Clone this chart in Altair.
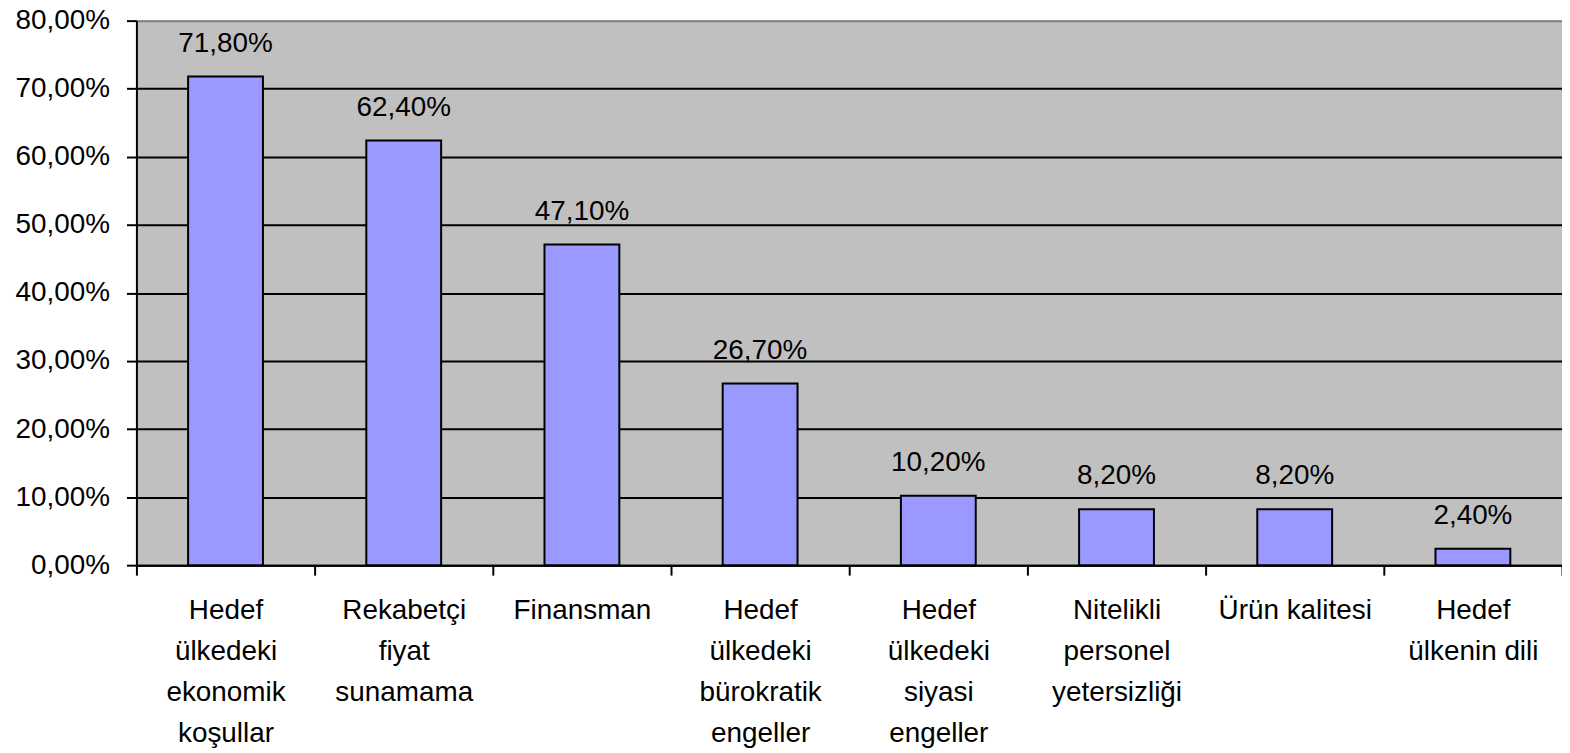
import altair as alt
import pandas as pd

categories = [
    "Hedef\nülkedeki\nekonomik\nkoşullar",
    "Rekabetçi\nfiyat\nsunamama",
    "Finansman",
    "Hedef\nülkedeki\nbürokratik\nengeller",
    "Hedef\nülkedeki\nsiyasi\nengeller",
    "Nitelikli\npersonel\nyetersizliği",
    "Ürün kalitesi",
    "Hedef\nülkenin dili",
]
values = [0.718, 0.624, 0.471, 0.267, 0.102, 0.082, 0.082, 0.024]
y_ticks = [0.0, 0.1, 0.2, 0.3, 0.4, 0.5, 0.6, 0.7, 0.8]

df = pd.DataFrame({"kategori": categories, "deger": values})

FONT = "Liberation Sans"

x = alt.X(
    "kategori:N",
    sort=None,
    scale=alt.Scale(paddingInner=0, paddingOuter=0),
    axis=alt.Axis(
        title=None,
        labelAngle=0,
        tickBand="extent",
        labelFont=FONT,
        labelFontSize=28,
        labelColor="black",
        labelLineHeight=41,
        labelPadding=22,
        labelLimit=400,
        labelOverlap=False,
        labelBound=False,
        labelExpr="split(datum.label, '\\n')",
        tickSize=10,
        tickWidth=2,
        tickColor="black",
        domainColor="black",
        domainWidth=2,
        grid=False,
    ),
)

y = alt.Y(
    "deger:Q",
    scale=alt.Scale(domain=[0, 0.8], nice=False),
    axis=alt.Axis(
        title=None,
        format=".2%",
        values=y_ticks,
        labelFont=FONT,
        labelFontSize=28,
        labelColor="black",
        labelPadding=17,
        tickSize=10,
        tickWidth=2,
        tickColor="black",
        domainColor="black",
        domainWidth=2,
        grid=True,
        gridColor=alt.condition("datum.value >= 0.8", alt.value("#808080"), alt.value("black")),
        gridWidth=2,
    ),
)

base = alt.Chart(df).encode(x=x, y=y)

bars = base.mark_bar(
    color="#9999FF",
    stroke="black",
    strokeWidth=2,
    width=alt.RelativeBandSize(0.42),
)

labels = base.mark_text(
    baseline="alphabetic",
    dy=-25,
    font=FONT,
    fontSize=28,
    color="black",
).encode(text=alt.Text("deger:Q", format=".2%"))

chart = (
    alt.layer(bars, labels)
    .properties(
        width=1432,
        height=547,
        autosize=alt.AutoSizeParams(type="none"),
        padding={"left": 129, "top": 11, "right": 0, "bottom": 192},
        background="white",
    )
    .configure(
        locale={
            "number": {
                "decimal": ",",
                "thousands": ".",
                "grouping": [3],
                "currency": ["", " TL"],
            }
        }
    )
    .configure_view(fill="#C0C0C0", stroke="#808080", strokeWidth=1)
)

chart.save("out.html", embed_options={"renderer": "svg", "actions": False})
